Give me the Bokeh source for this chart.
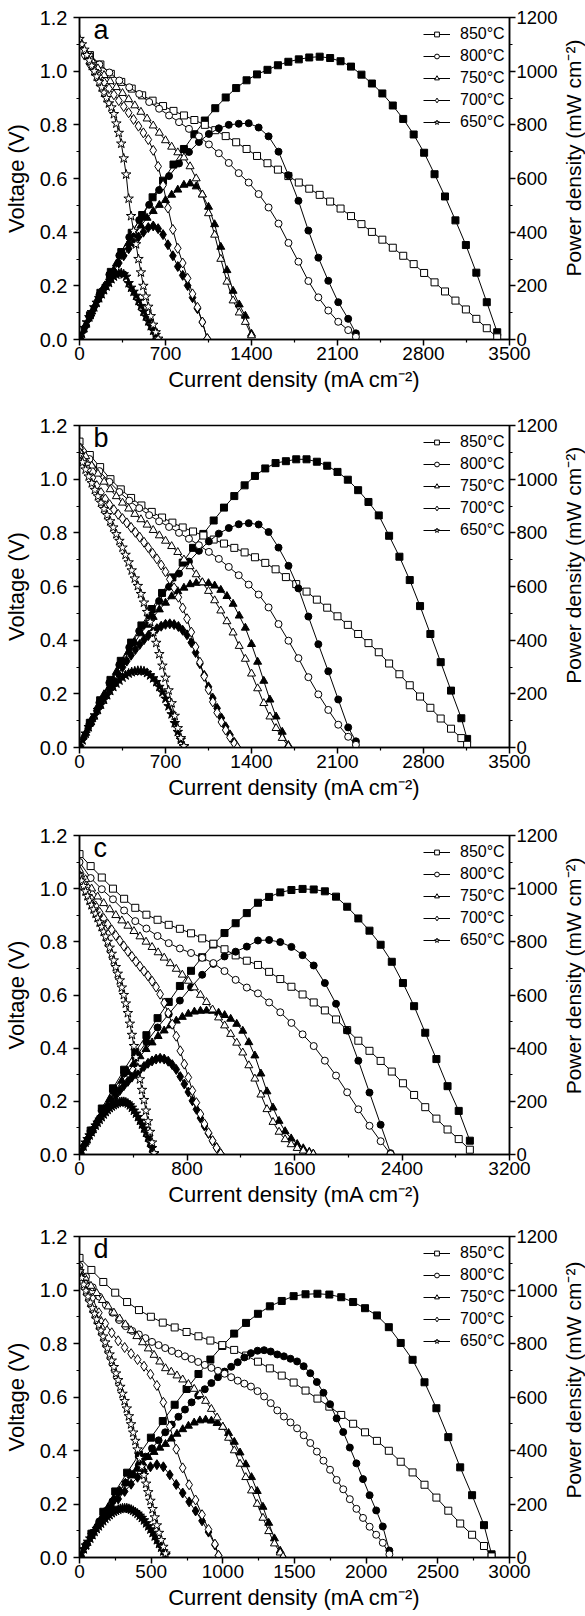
import math
from bokeh.plotting import figure
from bokeh.models import (Range1d, LinearAxis, FixedTicker, Legend, LegendItem,
                          Label, PrintfTickFormatter)
from bokeh.layouts import column, row
from bokeh.embed import file_html
from bokeh.resources import INLINE

FONT = "Liberation Sans"
temps = ["850°C", "800°C", "750°C", "700°C", "650°C"]
markers = ["square", "circle", "triangle", "diamond", "star"]
msizes = [7, 7, 8, 10, 10]

# ---------------- panel a ----------------
a_x_ticks = [0, 700, 1400, 2100, 2800, 3500]
a_x_minor = [350, 1050, 1750, 2450, 3150]
a850_I = [0, 85, 170, 255, 340, 425, 510, 595, 680, 765, 850, 935, 1020, 1105, 1190, 1275, 1360, 1445, 1530, 1615,
          1700, 1785, 1870, 1955, 2040, 2125, 2210, 2295, 2380, 2465, 2550, 2635, 2720, 2805, 2890, 2975, 3060, 3145, 3230, 3315, 3400]
a850_V = [1.10, 1.06, 1.025, 0.99, 0.96, 0.935, 0.91, 0.89, 0.87, 0.852, 0.835, 0.818, 0.80, 0.78, 0.758, 0.735, 0.71, 0.684, 0.657, 0.633,
          0.609, 0.585, 0.562, 0.539, 0.514, 0.488, 0.46, 0.43, 0.401, 0.372, 0.342, 0.312, 0.281, 0.248, 0.213, 0.179, 0.145, 0.112, 0.077, 0.042, 0.008]
a850_P = [0, 90, 174, 252, 326, 397, 464, 530, 592, 652, 710, 765, 816, 862, 902, 937, 966, 988, 1005, 1022,
          1035, 1044, 1051, 1054, 1049, 1037, 1017, 987, 954, 917, 872, 822, 764, 696, 616, 533, 444, 352, 249, 139, 27]
a800_I = [0, 81, 162, 243, 324, 405, 486, 567, 648, 729, 810, 891, 972, 1053, 1134, 1215, 1296, 1377, 1458, 1539,
          1620, 1701, 1782, 1863, 1944, 2025, 2106, 2187, 2250]
a800_V = [1.10, 1.06, 1.025, 0.995, 0.965, 0.94, 0.915, 0.885, 0.86, 0.835, 0.81, 0.785, 0.757, 0.727, 0.694, 0.658, 0.62, 0.585, 0.542, 0.492,
          0.432, 0.36, 0.29, 0.218, 0.157, 0.108, 0.066, 0.035, 0.01]
a800_P = [0, 86, 166, 242, 313, 381, 445, 502, 557, 609, 656, 699, 736, 766, 787, 800, 804, 806, 790, 757,
          700, 612, 517, 406, 305, 219, 139, 77, 23]
a750_I = [0, 50, 100, 150, 200, 250, 300, 350, 400, 450, 500, 550, 600, 650, 700, 750, 800, 850, 900, 950,
          1000, 1050, 1100, 1150, 1200, 1250, 1300, 1350, 1400]
a750_V = [1.11, 1.07, 1.04, 1.01, 0.985, 0.962, 0.94, 0.918, 0.895, 0.872, 0.848, 0.823, 0.797, 0.77, 0.742, 0.718, 0.697, 0.678, 0.645, 0.60,
          0.54, 0.47, 0.39, 0.30, 0.215, 0.145, 0.10, 0.065, 0.015]
a750_P = [0, 54, 104, 152, 197, 241, 282, 321, 358, 392, 424, 453, 478, 501, 519, 539, 558, 576, 581, 570,
          540, 494, 429, 345, 258, 181, 130, 88, 21]
a700_I = [0, 40, 80, 120, 160, 200, 240, 280, 320, 360, 400, 440, 480, 520, 560, 600, 640, 680, 720, 760,
          800, 840, 880, 920, 960, 1000, 1040]
a700_V = [1.10, 1.06, 1.028, 1.003, 0.98, 0.958, 0.935, 0.912, 0.89, 0.868, 0.845, 0.82, 0.795, 0.77, 0.745, 0.705, 0.645, 0.575, 0.49, 0.41,
          0.34, 0.285, 0.228, 0.17, 0.12, 0.065, 0.003]
a700_P = [0, 42, 82, 120, 157, 192, 224, 255, 285, 312, 338, 361, 382, 400, 417, 423, 413, 391, 353, 312,
          272, 239, 201, 156, 115, 65, 3]
a650_I = [0, 20, 40, 60, 80, 100, 120, 140, 160, 180, 200, 220, 240, 260, 280, 300, 320, 340, 360, 380,
          400, 420, 440, 460, 480, 500, 520, 540, 560, 580, 600, 620, 640]
a650_V = [1.12, 1.10, 1.08, 1.06, 1.04, 1.02, 1.00, 0.98, 0.96, 0.94, 0.92, 0.90, 0.88, 0.865, 0.84, 0.805, 0.77, 0.73, 0.675, 0.615,
          0.525, 0.46, 0.405, 0.355, 0.30, 0.25, 0.20, 0.16, 0.122, 0.087, 0.055, 0.027, 0.003]
a650_P = [0, 22, 43, 64, 83, 102, 120, 137, 154, 169, 184, 198, 211, 225, 235, 242, 246, 248, 243, 234,
          210, 193, 178, 163, 144, 125, 104, 86, 68, 50, 33, 17, 2]

# ---------------- panel b ----------------
b_x_ticks = [0, 700, 1400, 2100, 2800, 3500]
b_x_minor = [350, 1050, 1750, 2450, 3150]
b850_I = [0, 84, 168, 252, 336, 420, 504, 588, 672, 756, 840, 924, 1008, 1092, 1176, 1260, 1344, 1428, 1512, 1596,
          1680, 1764, 1848, 1932, 2016, 2100, 2184, 2268, 2352, 2436, 2520, 2604, 2688, 2772, 2856, 2940, 3024, 3108, 3155]
b850_V = [1.14, 1.09, 1.045, 1.0, 0.962, 0.93, 0.902, 0.878, 0.857, 0.838, 0.82, 0.805, 0.79, 0.775, 0.76, 0.744, 0.727, 0.709, 0.688, 0.664,
          0.635, 0.609, 0.581, 0.551, 0.521, 0.489, 0.457, 0.423, 0.389, 0.355, 0.313, 0.273, 0.232, 0.19, 0.148, 0.108, 0.07, 0.035, 0.01]
b850_P = [0, 92, 176, 252, 323, 391, 455, 516, 576, 634, 689, 744, 796, 846, 894, 937, 977, 1012, 1040, 1060,
          1067, 1074, 1074, 1065, 1050, 1027, 998, 959, 915, 865, 789, 711, 624, 527, 423, 318, 212, 109, 32]
b800_I = [0, 81, 162, 243, 324, 405, 486, 567, 648, 729, 810, 891, 972, 1053, 1134, 1215, 1296, 1377, 1458, 1539,
          1620, 1701, 1782, 1863, 1944, 2025, 2106, 2187, 2250]
b800_V = [1.12, 1.075, 1.03, 0.99, 0.952, 0.92, 0.892, 0.866, 0.843, 0.822, 0.80, 0.778, 0.754, 0.729, 0.703, 0.673, 0.642, 0.607, 0.57, 0.522,
          0.46, 0.398, 0.333, 0.262, 0.198, 0.14, 0.085, 0.04, 0.01]
b800_P = [0, 87, 167, 241, 308, 373, 434, 491, 546, 599, 648, 693, 733, 768, 797, 818, 832, 836, 831, 803,
          745, 677, 593, 488, 385, 284, 179, 75, 23]
b750_I = [0, 50, 100, 150, 200, 250, 300, 350, 400, 450, 500, 550, 600, 650, 700, 750, 800, 850, 900, 950,
          1000, 1050, 1100, 1150, 1200, 1250, 1300, 1350, 1400, 1450, 1500, 1550, 1600, 1650, 1700]
b750_V = [1.12, 1.085, 1.05, 1.02, 0.99, 0.962, 0.936, 0.912, 0.89, 0.87, 0.85, 0.83, 0.81, 0.79, 0.77, 0.75, 0.728, 0.70, 0.675, 0.645,
          0.615, 0.583, 0.548, 0.51, 0.47, 0.428, 0.378, 0.33, 0.275, 0.22, 0.165, 0.115, 0.072, 0.035, 0.005]
b750_P = [0, 54, 105, 153, 198, 241, 281, 319, 356, 392, 425, 457, 486, 514, 539, 563, 582, 595, 608, 613,
          615, 612, 603, 587, 564, 535, 491, 446, 385, 319, 248, 178, 115, 58, 9]
b700_I = [0, 35, 70, 105, 140, 175, 210, 245, 280, 315, 350, 385, 420, 455, 490, 525, 560, 595, 630, 665,
          700, 735, 770, 805, 840, 875, 910, 945, 980, 1015, 1050, 1085, 1120, 1155, 1190, 1225, 1260, 1285]
b700_V = [1.10, 1.067, 1.035, 1.005, 0.976, 0.95, 0.926, 0.905, 0.886, 0.869, 0.853, 0.837, 0.82, 0.802, 0.784, 0.765, 0.745, 0.724, 0.703, 0.68,
          0.655, 0.627, 0.595, 0.56, 0.52, 0.48, 0.43, 0.375, 0.318, 0.265, 0.215, 0.17, 0.13, 0.095, 0.065, 0.038, 0.015, 0.0]
b700_P = [0, 37, 72, 106, 137, 166, 194, 222, 248, 274, 299, 322, 344, 365, 384, 402, 417, 431, 443, 452,
          459, 461, 458, 451, 437, 420, 391, 354, 312, 269, 226, 184, 146, 110, 77, 47, 19, 0]
b650_I = [0, 25, 50, 75, 100, 125, 150, 175, 200, 225, 250, 275, 300, 325, 350, 375, 400, 425, 450, 475,
          500, 525, 550, 575, 600, 625, 650, 675, 700, 725, 750, 775, 800, 825, 850]
b650_V = [1.09, 1.063, 1.036, 1.01, 0.985, 0.96, 0.936, 0.912, 0.889, 0.866, 0.843, 0.82, 0.795, 0.77, 0.745, 0.718, 0.69, 0.66, 0.63, 0.602,
          0.572, 0.54, 0.505, 0.468, 0.43, 0.39, 0.348, 0.305, 0.26, 0.213, 0.165, 0.118, 0.072, 0.035, 0.005]
b650_P = [0, 27, 52, 76, 99, 120, 140, 160, 178, 195, 211, 226, 239, 250, 261, 269, 276, 281, 284, 286,
          286, 284, 278, 269, 258, 244, 226, 206, 182, 154, 124, 91, 58, 29, 4]

# ---------------- panel c ----------------
c_x_ticks = [0, 800, 1600, 2400, 3200]
c_x_minor = [400, 1200, 2000, 2800]
c850_I = [0, 83, 166, 249, 332, 415, 498, 581, 664, 747, 830, 913, 996, 1079, 1162, 1245, 1328, 1411, 1494, 1577,
          1660, 1743, 1826, 1909, 1992, 2075, 2158, 2241, 2324, 2407, 2490, 2573, 2656, 2739, 2822, 2905]
c850_V = [1.13, 1.085, 1.042, 1.0, 0.962, 0.928, 0.902, 0.883, 0.864, 0.849, 0.832, 0.813, 0.793, 0.772, 0.749, 0.729, 0.713, 0.687, 0.66, 0.631,
          0.602, 0.572, 0.542, 0.508, 0.468, 0.428, 0.39, 0.352, 0.312, 0.268, 0.224, 0.178, 0.135, 0.094, 0.058, 0.018]
c850_P = [0, 90, 173, 249, 319, 385, 449, 513, 574, 634, 691, 742, 790, 833, 870, 908, 947, 969, 986, 995,
          999, 997, 990, 970, 932, 888, 842, 789, 725, 645, 558, 458, 359, 257, 164, 52]
c800_I = [0, 83, 166, 249, 332, 415, 498, 581, 664, 747, 830, 913, 996, 1079, 1162, 1245, 1328, 1411, 1494, 1577,
          1660, 1743, 1826, 1909, 1992, 2075, 2158, 2241, 2315]
c800_V = [1.10, 1.04, 0.998, 0.96, 0.918, 0.878, 0.85, 0.822, 0.795, 0.775, 0.758, 0.74, 0.72, 0.69, 0.657, 0.628, 0.606, 0.572, 0.535, 0.495,
          0.452, 0.408, 0.353, 0.297, 0.234, 0.17, 0.108, 0.05, 0.002]
c800_P = [0, 86, 166, 239, 305, 364, 423, 478, 528, 579, 629, 676, 717, 745, 763, 782, 805, 807, 799, 781,
          750, 711, 645, 567, 466, 353, 233, 112, 5]
c750_I = [0, 45, 90, 135, 180, 225, 270, 315, 360, 405, 450, 495, 540, 585, 630, 675, 720, 765, 810, 855,
          900, 945, 990, 1035, 1080, 1125, 1170, 1215, 1260, 1305, 1350, 1395, 1440, 1485, 1530, 1575, 1620, 1665, 1710, 1740]
c750_V = [1.07, 1.035, 1.0, 0.97, 0.945, 0.922, 0.9, 0.88, 0.86, 0.84, 0.82, 0.80, 0.78, 0.76, 0.74, 0.719, 0.698, 0.676, 0.653, 0.628,
          0.60, 0.573, 0.545, 0.515, 0.485, 0.453, 0.42, 0.383, 0.335, 0.285, 0.225, 0.17, 0.122, 0.085, 0.057, 0.038, 0.024, 0.014, 0.006, 0.002]
c750_P = [0, 47, 90, 131, 170, 207, 243, 277, 310, 340, 369, 396, 421, 445, 466, 485, 503, 517, 529, 537,
          540, 541, 540, 533, 524, 510, 491, 465, 422, 372, 304, 237, 176, 126, 87, 60, 39, 23, 10, 3]
c700_I = [0, 30, 60, 90, 120, 150, 180, 210, 240, 270, 300, 330, 360, 390, 420, 450, 480, 510, 540, 570,
          600, 630, 660, 690, 720, 750, 780, 810, 840, 870, 900, 930, 960, 990, 1020, 1050]
c700_V = [1.05, 1.018, 0.988, 0.96, 0.935, 0.911, 0.888, 0.866, 0.845, 0.824, 0.804, 0.784, 0.764, 0.745, 0.726, 0.708, 0.69, 0.672, 0.652, 0.63,
          0.603, 0.57, 0.532, 0.49, 0.445, 0.39, 0.34, 0.29, 0.24, 0.195, 0.152, 0.115, 0.082, 0.052, 0.025, 0.003]
c700_P = [0, 31, 59, 86, 112, 137, 160, 182, 203, 222, 241, 259, 275, 291, 305, 319, 331, 343, 352, 359,
          362, 359, 351, 338, 320, 293, 265, 235, 202, 170, 137, 107, 79, 51, 26, 3]
c650_I = [0, 15, 30, 45, 60, 75, 90, 105, 120, 135, 150, 165, 180, 195, 210, 225, 240, 255, 270, 285,
          300, 315, 330, 345, 360, 375, 390, 405, 420, 435, 450, 465, 480, 495, 510, 525, 540, 555]
c650_V = [1.05, 1.03, 1.01, 0.99, 0.972, 0.955, 0.938, 0.922, 0.906, 0.89, 0.873, 0.856, 0.838, 0.82, 0.80, 0.778, 0.755, 0.73, 0.705, 0.68,
          0.655, 0.628, 0.60, 0.568, 0.532, 0.492, 0.45, 0.408, 0.366, 0.325, 0.283, 0.243, 0.205, 0.165, 0.125, 0.085, 0.045, 0.005]
c650_P = [0, 15, 30, 45, 58, 72, 84, 97, 109, 120, 131, 141, 151, 160, 168, 175, 181, 186, 190, 194,
          197, 198, 198, 196, 192, 185, 176, 165, 154, 141, 127, 113, 98, 82, 64, 45, 24, 3]

# ---------------- panel d ----------------
d_x_ticks = [0, 500, 1000, 1500, 2000, 2500, 3000]
d_x_minor = [250, 750, 1250, 1750, 2250, 2750]
d850_I = [0, 83, 166, 249, 332, 415, 498, 581, 664, 747, 830, 913, 996, 1079, 1162, 1245, 1328, 1411, 1494, 1577,
          1660, 1743, 1826, 1909, 1992, 2075, 2158, 2241, 2324, 2407, 2490, 2573, 2656, 2739, 2822, 2875]
d850_V = [1.12, 1.075, 1.03, 0.99, 0.955, 0.925, 0.90, 0.878, 0.86, 0.843, 0.827, 0.811, 0.794, 0.776, 0.755, 0.732, 0.707, 0.68, 0.654, 0.624,
          0.594, 0.564, 0.533, 0.50, 0.468, 0.436, 0.399, 0.358, 0.318, 0.272, 0.224, 0.175, 0.127, 0.085, 0.043, 0.004]
d850_P = [0, 89, 171, 247, 317, 384, 448, 510, 571, 630, 686, 740, 791, 837, 877, 911, 939, 959, 977, 984,
          986, 983, 973, 955, 932, 905, 861, 802, 739, 655, 558, 450, 337, 233, 121, 12]
d800_I = [0, 46, 92, 138, 184, 230, 276, 322, 368, 414, 460, 506, 552, 598, 644, 690, 736, 782, 828, 874,
          920, 966, 1012, 1058, 1104, 1150, 1196, 1242, 1288, 1334, 1380, 1426, 1472, 1518, 1564, 1610, 1656, 1702, 1748, 1794,
          1840, 1886, 1932, 1978, 2024, 2070, 2116, 2162]
d800_V = [1.09, 1.05, 1.01, 0.975, 0.945, 0.915, 0.888, 0.865, 0.847, 0.834, 0.82, 0.806, 0.794, 0.783, 0.772, 0.762, 0.752, 0.742, 0.731, 0.72,
          0.709, 0.698, 0.687, 0.674, 0.661, 0.65, 0.639, 0.622, 0.602, 0.577, 0.55, 0.527, 0.505, 0.483, 0.457, 0.428, 0.396, 0.362, 0.328, 0.29,
          0.255, 0.218, 0.182, 0.148, 0.115, 0.085, 0.055, 0.012]
d800_P = [0, 48, 93, 135, 174, 210, 245, 279, 312, 345, 377, 408, 438, 468, 497, 526, 553, 580, 605, 629,
          652, 674, 695, 713, 730, 748, 764, 773, 775, 770, 759, 752, 743, 733, 715, 689, 656, 616, 573, 520,
          469, 411, 352, 293, 233, 176, 116, 26]
d750_I = [0, 40, 80, 120, 160, 200, 240, 280, 320, 360, 400, 440, 480, 520, 560, 600, 640, 680, 720, 760,
          800, 840, 880, 920, 960, 1000, 1040, 1080, 1120, 1160, 1200, 1240, 1280, 1320, 1360, 1400, 1420]
d750_V = [1.08, 1.045, 1.015, 0.988, 0.962, 0.938, 0.915, 0.893, 0.871, 0.849, 0.827, 0.804, 0.781, 0.757, 0.732, 0.707, 0.694, 0.68, 0.665, 0.648,
          0.63, 0.61, 0.585, 0.555, 0.523, 0.488, 0.447, 0.40, 0.35, 0.30, 0.25, 0.20, 0.148, 0.098, 0.052, 0.018, 0.003]
d750_P = [0, 42, 81, 119, 154, 188, 220, 250, 279, 306, 331, 354, 375, 394, 410, 424, 444, 462, 479, 492,
          504, 512, 515, 511, 502, 488, 465, 432, 392, 348, 300, 248, 189, 129, 71, 25, 4]
d700_I = [0, 45, 90, 135, 180, 225, 270, 315, 360, 405, 450, 495, 540, 585, 630, 675, 720, 765, 810, 855,
          900, 945, 970]
d700_V = [1.07, 1.02, 0.97, 0.915, 0.875, 0.84, 0.81, 0.785, 0.762, 0.74, 0.715, 0.685, 0.643, 0.58, 0.49, 0.405, 0.335, 0.272, 0.215, 0.16,
          0.105, 0.05, 0.008]
d700_P = [0, 46, 87, 124, 158, 189, 219, 247, 274, 300, 322, 339, 347, 339, 309, 273, 241, 208, 174, 137,
          95, 47, 8]
d650_I = [0, 15, 30, 45, 60, 75, 90, 105, 120, 135, 150, 165, 180, 195, 210, 225, 240, 255, 270, 285,
          300, 315, 330, 345, 360, 375, 390, 405, 420, 435, 450, 465, 480, 495, 510, 525, 540, 555, 570, 585, 600]
d650_V = [1.07, 1.045, 1.02, 0.997, 0.975, 0.953, 0.932, 0.911, 0.89, 0.869, 0.848, 0.826, 0.804, 0.782, 0.759, 0.736, 0.712, 0.688, 0.663, 0.638,
          0.612, 0.585, 0.557, 0.528, 0.498, 0.467, 0.436, 0.404, 0.372, 0.34, 0.308, 0.276, 0.244, 0.212, 0.181, 0.15, 0.12, 0.092, 0.065, 0.04, 0.015]
d650_P = [0, 16, 31, 45, 59, 71, 84, 96, 107, 117, 127, 136, 145, 153, 159, 166, 171, 175, 179, 182,
          184, 184, 184, 182, 179, 175, 170, 164, 156, 148, 139, 128, 117, 105, 92, 79, 65, 51, 37, 23, 9]

y_ticks = [0, 0.2, 0.4, 0.6, 0.8, 1.0, 1.2]
y_minor = [0.1, 0.3, 0.5, 0.7, 0.9, 1.1]
p_ticks = [0, 200, 400, 600, 800, 1000, 1200]
p_minor = [100, 300, 500, 700, 900, 1100]

MAIN_W = 560
SIDE_W = 25
TOP = 17


def style_axis(ax, tick_fs="19px"):
    ax.axis_line_color = "black"
    ax.axis_line_width = 1.5
    ax.major_tick_line_color = "black"
    ax.major_tick_line_width = 1.5
    ax.minor_tick_line_color = "black"
    ax.minor_tick_line_width = 1.2
    ax.major_tick_out = 6
    ax.major_tick_in = 0
    ax.minor_tick_out = 3
    ax.minor_tick_in = 0
    ax.major_label_text_font = FONT
    ax.major_label_text_font_size = tick_fs
    ax.major_label_text_color = "black"
    ax.axis_label_text_font = FONT
    ax.axis_label_text_font_size = "22px"
    ax.axis_label_text_font_style = "normal"
    ax.axis_label_text_color = "black"


def make_panel(letter, height, bottom, xmax, xticks, xminor, curves):
    p = figure(width=MAIN_W, height=height, x_range=Range1d(0, xmax), y_range=Range1d(0, 1.2),
               output_backend="svg", toolbar_location=None,
               min_border_left=79, min_border_right=MAIN_W - 511, min_border_top=TOP, min_border_bottom=bottom,
               background_fill_color="white", border_fill_color="white")
    p.extra_y_ranges = {"p": Range1d(0, 1200)}
    p.xgrid.visible = False
    p.ygrid.visible = False
    p.outline_line_color = "black"
    p.outline_line_width = 1.5
    frame_h = height - TOP - bottom

    xa = p.xaxis[0]
    xa.ticker = FixedTicker(ticks=xticks, minor_ticks=xminor)
    xa.axis_label = "Current density (mA cm⁻²)"
    style_axis(xa)
    xa.major_label_standoff = 1
    xa.axis_label_standoff = 4

    ya = p.yaxis[0]
    ya.ticker = FixedTicker(ticks=y_ticks, minor_ticks=y_minor)
    ya.formatter = PrintfTickFormatter(format="%.1f")
    ya.axis_label = "Voltage (V)"
    style_axis(ya, "20px")
    ya.major_label_standoff = 6
    ya.axis_label_standoff = 8

    ra = LinearAxis(y_range_name="p", ticker=FixedTicker(ticks=p_ticks, minor_ticks=p_minor))
    style_axis(ra, "18.5px")
    ra.major_label_standoff = 1
    p.add_layout(ra, "right")

    items = []
    for (I, V, P), t, m, s in zip(curves, temps, markers, msizes):
        p.line(I, P, y_range_name="p", line_color="black", line_width=1)
        p.scatter(I, P, y_range_name="p", marker=m, size=s, fill_color="black",
                  line_color="black", line_width=1)
        lr = p.line(I, V, line_color="black", line_width=1)
        sr = p.scatter(I, V, marker=m, size=s, fill_color="white", line_color="black", line_width=1)
        items.append(LegendItem(label=t, renderers=[lr, sr]))

    leg_h = 2 * 3 + 5 * 20 + 4 * 2
    leg = Legend(items=items, location=(344, frame_h - 1 - leg_h))
    leg.border_line_color = None
    leg.background_fill_alpha = 0
    leg.label_text_font = FONT
    leg.label_text_font_size = "16px"
    leg.label_text_color = "black"
    leg.label_text_baseline = "middle"
    leg.glyph_width = 27
    leg.glyph_height = 12
    leg.label_height = 20
    leg.label_standoff = 10
    leg.spacing = 2
    leg.padding = 3
    leg.margin = 0
    p.add_layout(leg)

    p.add_layout(Label(x=14, y=frame_h - 12, x_units="screen", y_units="screen", text=letter,
                       text_baseline="alphabetic",
                       text_font=FONT, text_font_size="27px", text_color="black"))

    # narrow companion figure carrying the right-hand axis title (reads bottom-to-top)
    side = figure(width=SIDE_W, height=height, x_range=Range1d(0, 1), y_range=Range1d(0, 1),
                  output_backend="svg", toolbar_location=None, x_axis_type=None, y_axis_type=None,
                  min_border=0, min_border_left=0, min_border_right=0, min_border_top=0, min_border_bottom=0,
                  background_fill_color="white", border_fill_color="white")
    side.outline_line_color = None
    side.add_layout(Label(x=0.5, y=1 - (TOP + frame_h / 2) / height, text="Power density (mW cm⁻²)",
                          angle=math.pi / 2, text_align="center", text_baseline="middle",
                          text_font=FONT, text_font_size="21px", text_color="black"))
    return row(p, side, spacing=0)


pa = make_panel("a", 408, 69, 3500, a_x_ticks, a_x_minor,
                [(a850_I, a850_V, a850_P), (a800_I, a800_V, a800_P), (a750_I, a750_V, a750_P),
                 (a700_I, a700_V, a700_P), (a650_I, a650_V, a650_P)])
pb = make_panel("b", 410, 71, 3500, b_x_ticks, b_x_minor,
                [(b850_I, b850_V, b850_P), (b800_I, b800_V, b800_P), (b750_I, b750_V, b750_P),
                 (b700_I, b700_V, b700_P), (b650_I, b650_V, b650_P)])
pc = make_panel("c", 401, 65, 3200, c_x_ticks, c_x_minor,
                [(c850_I, c850_V, c850_P), (c800_I, c800_V, c800_P), (c750_I, c750_V, c750_P),
                 (c700_I, c700_V, c700_P), (c650_I, c650_V, c650_P)])
pd_ = make_panel("d", 397, 59, 3000, d_x_ticks, d_x_minor,
                 [(d850_I, d850_V, d850_P), (d800_I, d800_V, d800_P), (d750_I, d750_V, d750_P),
                  (d700_I, d700_V, d700_P), (d650_I, d650_V, d650_P)])

layout = column(pa, pb, pc, pd_, spacing=0)
open("out.html", "w").write(file_html(layout, INLINE))
